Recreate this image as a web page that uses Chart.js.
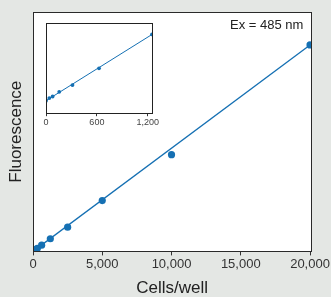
<!DOCTYPE html>
<html>
<head>
<meta charset="utf-8">
<script src="https://cdn.jsdelivr.net/npm/chart.js@4"></script>
<style>
  html, body { margin: 0; padding: 0; background: #e4e7e4; }
  #wrap { position: relative; width: 331px; height: 297px; }
  #wrap canvas { position: absolute; left: 0; top: 0; }
</style>
</head>
<body>
<div id="wrap">
  <canvas id="mainChart" width="331" height="297"></canvas>
  <canvas id="insetChart" width="331" height="297"></canvas>
</div>
<script>
// cells per well and measured fluorescence (arbitrary units)
var cells = [0, 39, 78, 156, 312, 625, 1250, 2500, 5000, 10000, 20000];
var signal = [0, 5, 8, 17, 30, 62, 127, 243, 510, 970, 2070];

// fitted line end points
var fitX = [0, 20000];
var fitY = [0, 2070];
var insetFitX = [0, 1250];
var insetFitY = [0, 127];

// tick labels
var mainTicks = [0, 5000, 10000, 15000, 20000];
var insetTicks = [0, 600, 1200];
var insetCount = 7; // inset shows the first 7 points (0 - 1,250 cells)

var blue = '#1570b3';
var font = 'Liberation Sans, Arial, Helvetica, sans-serif';

function toPoints(xs, ys) {
    return xs.map(function (x, i) { return { x: x, y: ys[i] }; });
}

// white plot area plus a box round it
var boxPlugin = {
    id: 'box',
    beforeDraw: function (chart, args, opts) {
        var a = chart.chartArea;
        var ctx = chart.ctx;
        ctx.save();
        if (opts.fill) {
            ctx.fillStyle = opts.fill;
            ctx.fillRect(a.left, a.top, a.right - a.left, a.bottom - a.top);
        }
        ctx.restore();
    },
    afterDraw: function (chart, args, opts) {
        var a = chart.chartArea;
        var ctx = chart.ctx;
        ctx.save();
        ctx.strokeStyle = opts.color || '#333';
        ctx.lineWidth = 1;
        ctx.strokeRect(Math.round(a.left) + 0.5, Math.round(a.top) + 0.5,
            Math.round(a.right - a.left), Math.round(a.bottom - a.top));
        if (opts.note) {
            ctx.fillStyle = '#222';
            ctx.font = '13px ' + font;
            ctx.textAlign = 'right';
            ctx.textBaseline = 'middle';
            ctx.fillText(opts.note, a.right - 8, a.top + 13);
        }
        ctx.restore();
    }
};

function fixedTicks(values) {
    return function (scale) {
        scale.ticks = values.map(function (v) { return { value: v }; });
    };
}

var mainChart = new Chart(document.getElementById('mainChart'), {
    type: 'scatter',
    data: {
        datasets: [{
            data: toPoints(cells, signal),
            backgroundColor: blue,
            borderWidth: 0,
            pointRadius: 3.6
        }, {
            type: 'line',
            data: toPoints(fitX, fitY),
            borderColor: blue,
            borderWidth: 1.3,
            pointRadius: 0,
            fill: false
        }]
    },
    options: {
        responsive: false,
        animation: false,
        layout: { padding: { left: 4, top: 12, right: 18, bottom: 0 } },
        plugins: {
            legend: { display: false },
            tooltip: { enabled: false },
            box: { fill: '#ffffff', color: '#2a2a2a', note: 'Ex = 485 nm' }
        },
        scales: {
            x: {
                type: 'linear',
                min: 0,
                max: 20100,
                afterBuildTicks: fixedTicks(mainTicks),
                border: { display: false },
                grid: { drawOnChartArea: false, drawTicks: true, tickLength: 4, color: '#333' },
                ticks: {
                    padding: 1,
                    maxRotation: 0,
                    color: '#333',
                    font: { family: font, size: 13 },
                    callback: function (v) { return v.toLocaleString('en-US'); }
                },
                title: {
                    display: true,
                    text: 'Cells/well',
                    color: '#222',
                    font: { family: font, size: 17, lineHeight: 1 },
                    padding: { top: 7, bottom: 0 }
                }
            },
            y: {
                min: 0,
                max: 2400,
                border: { display: false },
                grid: { display: false, drawTicks: false },
                ticks: { display: false },
                title: {
                    display: true,
                    text: 'Fluorescence',
                    color: '#222',
                    font: { family: font, size: 17, lineHeight: 1 },
                    padding: { top: 4, bottom: 8 }
                }
            }
        }
    },
    plugins: [boxPlugin]
});

var insetChart = new Chart(document.getElementById('insetChart'), {
    type: 'scatter',
    data: {
        datasets: [{
            data: toPoints(cells.slice(0, insetCount), signal.slice(0, insetCount)),
            backgroundColor: blue,
            borderWidth: 0,
            pointRadius: 1.9
        }, {
            type: 'line',
            data: toPoints(insetFitX, insetFitY),
            borderColor: blue,
            borderWidth: 1,
            pointRadius: 0,
            fill: false
        }]
    },
    options: {
        responsive: false,
        animation: false,
        layout: { padding: { left: 46, top: 23, right: 179, bottom: 168 } },
        plugins: {
            legend: { display: false },
            tooltip: { enabled: false },
            box: { color: '#222' }
        },
        scales: {
            x: {
                type: 'linear',
                min: 0,
                max: 1250,
                afterBuildTicks: fixedTicks(insetTicks),
                border: { display: false },
                grid: { drawOnChartArea: false, drawTicks: true, tickLength: 3, color: '#333' },
                ticks: {
                    padding: 1,
                    maxRotation: 0,
                    color: '#444',
                    font: { family: font, size: 9 },
                    callback: function (v) { return v.toLocaleString('en-US'); }
                }
            },
            y: {
                display: false,
                min: -24,
                max: 149
            }
        }
    },
    plugins: [boxPlugin]
});
</script>
</body>
</html>
